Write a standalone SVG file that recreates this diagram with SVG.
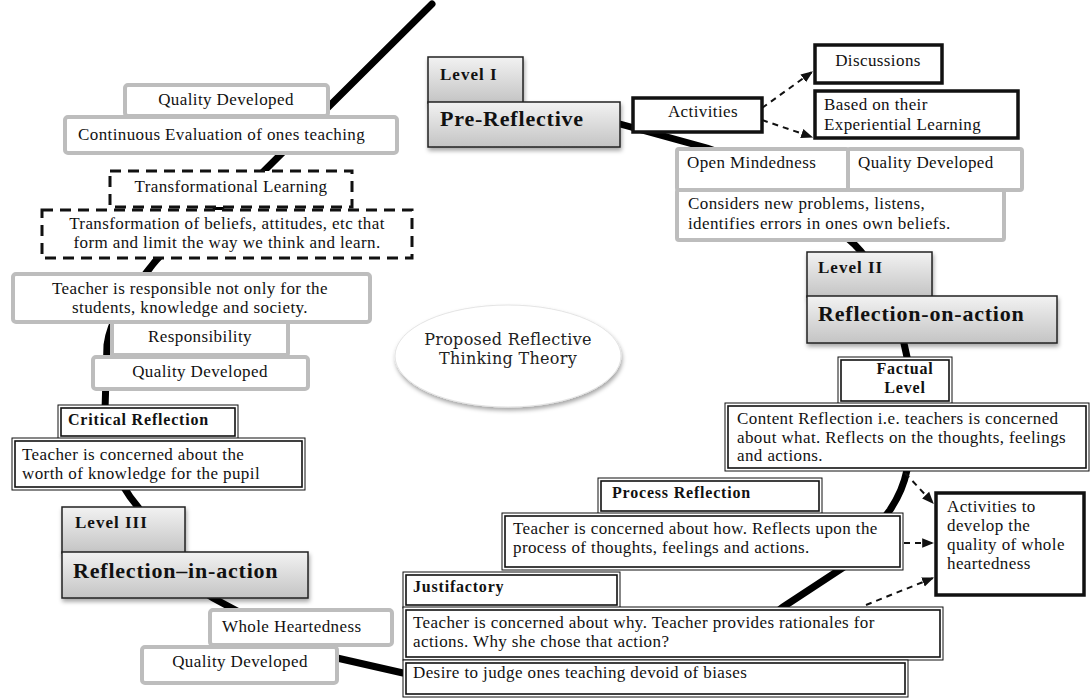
<svg xmlns="http://www.w3.org/2000/svg" width="1090" height="698" viewBox="0 0 1090 698">
<style>
text{font-family:"Liberation Serif","Times New Roman",serif;font-size:17px;letter-spacing:0.4px;fill:#111}
.b{font-weight:bold;font-size:16px;letter-spacing:0.8px}
.big{font-weight:bold;font-size:22px;letter-spacing:0.8px}
.lv{font-weight:bold;font-size:17px;letter-spacing:1px}
.mid{text-anchor:middle}
.gray{fill:#fff;stroke:#bdbdbd;stroke-width:4}
.dash{fill:#fff;stroke:#111;stroke-width:3;stroke-dasharray:11 7}
.thick{fill:#fff;stroke:#111;stroke-width:3.5}
.grad{fill:url(#g);stroke:#222;stroke-width:1.5}
.o{fill:#fff;stroke:#111;stroke-width:1}
.i{fill:none;stroke:#111;stroke-width:1.6}
.spiral{fill:none;stroke:#000;stroke-width:7;stroke-linecap:round;stroke-linejoin:round}
.conn{fill:none;stroke:#111;stroke-width:2;stroke-dasharray:6 5}
.th{font-family:"DejaVu Serif","Liberation Serif",serif;font-size:16px;letter-spacing:0.3px;fill:#222}
</style>
<defs>
<linearGradient id="g" x1="0" y1="0" x2="0" y2="1">
<stop offset="0" stop-color="#f2f2f2"/>
<stop offset="1" stop-color="#c4c4c4"/>
</linearGradient>
<filter id="sh" x="-10%" y="-10%" width="120%" height="130%">
<feDropShadow dx="1" dy="3" stdDeviation="2" flood-color="#000" flood-opacity="0.35"/>
</filter>
<marker id="ah" viewBox="0 0 10 10" refX="9" refY="5" markerWidth="6" markerHeight="6" orient="auto">
<path d="M0,1 L10,5 L0,9 z" fill="#111"/>
</marker>
</defs>
<rect width="1090" height="698" fill="#fff"/>

<g id="connectors">
<path class="spiral" d="M432,4 L263,172 C215,215 170,240 150,268 C125,300 110,320 107,345 L105,410 C105,450 115,480 138,507 C160,540 180,580 213,598 C250,618 300,645 337,658 L403,673 C550,700 720,660 783,607 L850,563 L890,510 C900,495 905,480 907,470 C912,420 912,390 907,357 C900,320 880,270 855,245 C800,195 760,165 707,148 L620,124"/>
<path class="conn" d="M762,108 L812,72" marker-end="url(#ah)"/>
<path class="conn" d="M762,120 L812,137" marker-end="url(#ah)"/>
<path class="conn" d="M905,473 L933,503" marker-end="url(#ah)"/>
<path class="conn" d="M904,543 L933,543" marker-end="url(#ah)"/>
<path class="conn" d="M866,605 L933,578" marker-end="url(#ah)"/>
</g>

<g id="qd-top">
<rect class="gray" x="125" y="85" width="203" height="31" rx="3"/>
<text class="mid" x="226" y="105">Quality Developed</text>
</g>
<g id="continuous-eval">
<rect class="gray" x="65" y="117" width="332" height="36" rx="3"/>
<text x="78" y="140">Continuous Evaluation of ones teaching</text>
</g>
<g id="transformational-learning">
<rect class="dash" x="110" y="171" width="242" height="36"/>
<text class="mid" x="231" y="192">Transformational Learning</text>
</g>
<g id="transformation-beliefs">
<rect class="dash" x="42" y="210" width="370" height="48"/>
<text class="mid" x="227" y="229">Transformation of beliefs, attitudes, etc that</text>
<text class="mid" x="227" y="248">form and limit the way we think and learn.</text>
</g>
<g id="teacher-responsible">
<rect class="gray" x="13" y="274" width="357" height="48" rx="3"/>
<text class="mid" x="190" y="294">Teacher is responsible not only for the</text>
<text class="mid" x="190" y="313">students, knowledge and society.</text>
</g>
<g id="responsibility">
<rect class="gray" x="112" y="322" width="176" height="33" rx="2"/>
<text class="mid" x="200" y="342">Responsibility</text>
</g>
<g id="qd-left">
<rect class="gray" x="93" y="357" width="215" height="32" rx="3"/>
<text class="mid" x="200" y="377">Quality Developed</text>
</g>
<g id="critical-reflection">
<rect class="o" x="58" y="405" width="180" height="34"/>
<rect class="i" x="61" y="408" width="174" height="28"/>
<text class="b" x="68" y="425">Critical Reflection</text>
</g>
<g id="worth-knowledge">
<rect class="o" x="12" y="438" width="293" height="52"/>
<rect class="i" x="15" y="441" width="287" height="46"/>
<text x="22" y="460">Teacher is concerned about the</text>
<text x="22" y="479">worth of knowledge for the pupil</text>
</g>
<g id="level3">
<rect class="grad" x="62" y="507" width="123" height="46" filter="url(#sh)"/>
<text class="lv" x="75" y="528">Level III</text>
</g>
<g id="reflection-in-action">
<rect class="grad" x="62" y="552" width="246" height="46" filter="url(#sh)"/>
<text class="big" x="73" y="578">Reflection–in-action</text>
</g>
<g id="whole-heartedness">
<rect class="gray" x="210" y="610" width="182" height="35" rx="3"/>
<text x="222" y="632">Whole Heartedness</text>
</g>
<g id="qd-bottom">
<rect class="gray" x="142" y="647" width="195" height="36" rx="3"/>
<text class="mid" x="240" y="667">Quality Developed</text>
</g>

<g id="theory">
<ellipse cx="508" cy="356" rx="113" ry="51" fill="#fff" stroke="#e4e4e4" stroke-width="1" filter="url(#sh)"/>
<text class="th mid" x="508" y="345">Proposed Reflective</text>
<text class="th mid" x="508" y="364">Thinking Theory</text>
</g>

<g id="level1">
<rect class="grad" x="428" y="57" width="95" height="46" filter="url(#sh)"/>
<text class="lv" x="440" y="80">Level I</text>
</g>
<g id="pre-reflective">
<rect class="grad" x="428" y="102" width="192" height="45" filter="url(#sh)"/>
<text class="big" x="440" y="126">Pre-Reflective</text>
</g>
<g id="activities">
<rect class="thick" x="633" y="98" width="129" height="34"/>
<text class="mid" x="703" y="117">Activities</text>
</g>
<g id="discussions">
<rect class="thick" x="815" y="45" width="127" height="38"/>
<text class="mid" x="878" y="66">Discussions</text>
</g>
<g id="experiential">
<rect class="thick" x="815" y="91" width="203" height="47"/>
<text x="824" y="110">Based on their</text>
<text x="824" y="130">Experiential Learning</text>
</g>
<g id="open-mindedness">
<rect class="gray" x="677" y="149" width="171" height="41" rx="2"/>
<text x="687" y="168">Open Mindedness</text>
</g>
<g id="qd-right">
<rect class="gray" x="848" y="149" width="174" height="41" rx="2"/>
<text x="858" y="168">Quality Developed</text>
</g>
<g id="considers">
<rect class="gray" x="677" y="190" width="327" height="50" rx="2"/>
<text x="688" y="209">Considers new problems, listens,</text>
<text x="688" y="229">identifies errors in ones own beliefs.</text>
</g>
<g id="level2">
<rect class="grad" x="807" y="252" width="125" height="45" filter="url(#sh)"/>
<text class="lv" x="818" y="273">Level II</text>
</g>
<g id="reflection-on-action">
<rect class="grad" x="807" y="296" width="250" height="47" filter="url(#sh)"/>
<text class="big" x="818" y="321">Reflection-on-action</text>
</g>
<g id="factual">
<rect class="o" x="838" y="357" width="114" height="47"/>
<rect class="i" x="841" y="360" width="108" height="41"/>
<text class="b mid" x="905" y="374">Factual</text>
<text class="b mid" x="905" y="393">Level</text>
</g>
<g id="content-reflection">
<rect class="o" x="725" y="403" width="364" height="68"/>
<rect class="i" x="728" y="406" width="358" height="62"/>
<text x="737" y="424">Content Reflection i.e. teachers is concerned</text>
<text x="737" y="443">about what. Reflects on the thoughts, feelings</text>
<text x="737" y="461">and actions.</text>
</g>
<g id="activities-whole">
<rect class="thick" x="936" y="493" width="148" height="102"/>
<text x="947" y="512">Activities to</text>
<text x="947" y="531">develop the</text>
<text x="947" y="550">quality of whole</text>
<text x="947" y="569">heartedness</text>
</g>
<g id="process-reflection">
<rect class="o" x="598" y="478" width="224" height="36"/>
<rect class="i" x="601" y="481" width="218" height="30"/>
<text class="b" x="612" y="498">Process Reflection</text>
</g>
<g id="process-text">
<rect class="o" x="502" y="513" width="401" height="57"/>
<rect class="i" x="505" y="516" width="395" height="51"/>
<text x="513" y="534">Teacher is concerned about how. Reflects upon the</text>
<text x="513" y="553">process of thoughts, feelings and actions.</text>
</g>
<g id="justifactory">
<rect class="o" x="403" y="572" width="217" height="36"/>
<rect class="i" x="406" y="575" width="211" height="30"/>
<text class="b" x="413" y="592">Justifactory</text>
</g>
<g id="why">
<rect class="o" x="403" y="607" width="540" height="53"/>
<rect class="i" x="406" y="610" width="534" height="47"/>
<text x="413" y="628">Teacher is concerned about why. Teacher provides rationales for</text>
<text x="413" y="647">actions. Why she chose that action?</text>
</g>
<g id="desire">
<rect class="o" x="403" y="660" width="505" height="37"/>
<rect class="i" x="406" y="663" width="499" height="31"/>
<text x="413" y="678">Desire to judge ones teaching devoid of biases</text>
</g>
</svg>
